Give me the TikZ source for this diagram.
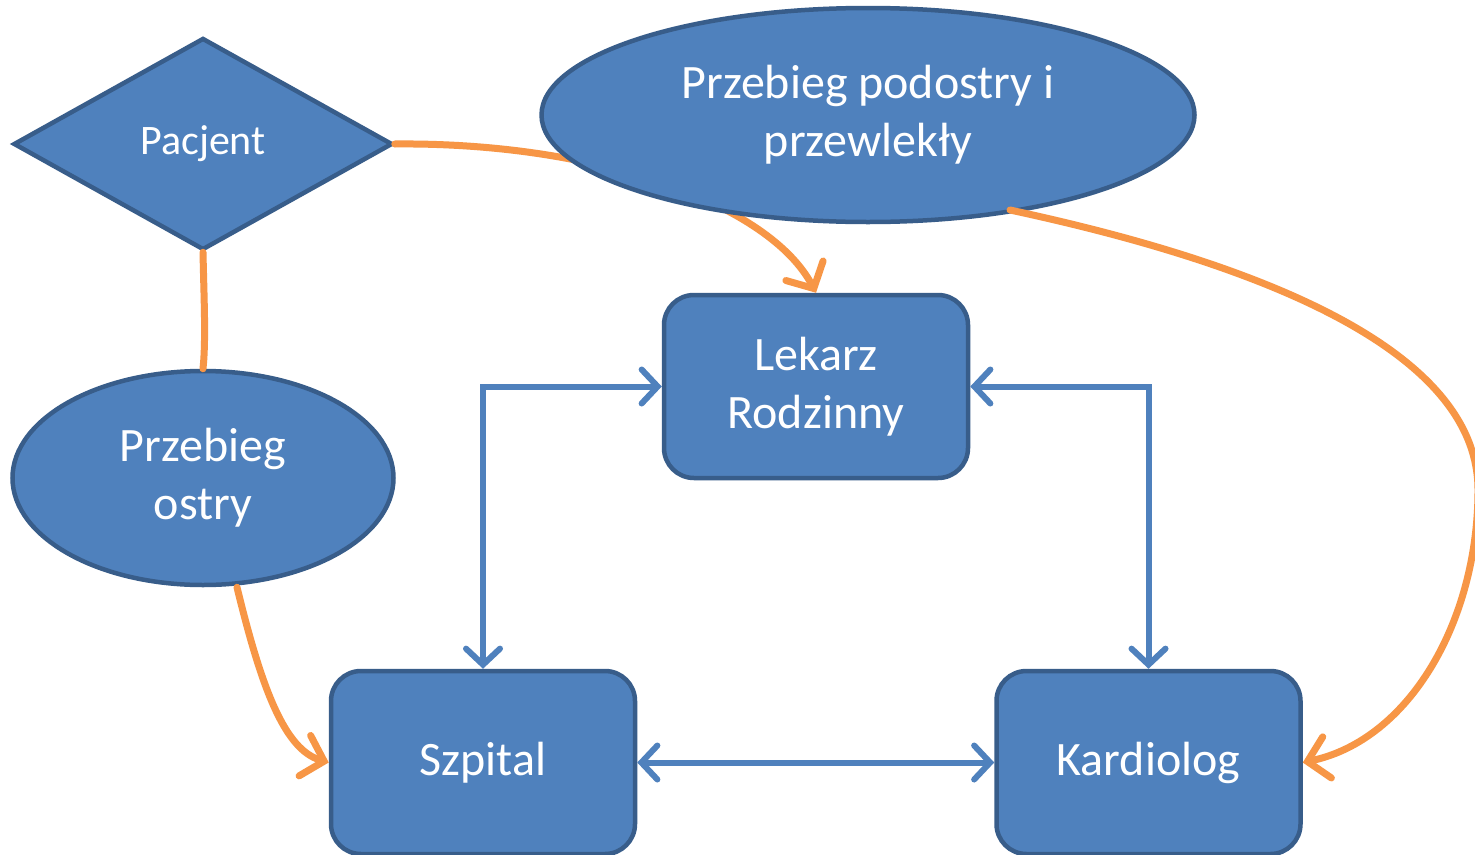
\documentclass[tikz,border=0pt]{standalone}
\usepackage{fontspec}
\setmainfont{Carlito}
\usetikzlibrary{shapes.geometric,arrows.meta}
\definecolor{boxfill}{HTML}{4F81BD}
\definecolor{boxline}{HTML}{385D8A}
\definecolor{flow}{HTML}{F79646}
\tikzset{
  shapebase/.style={fill=boxfill, draw=boxline, line width=4.5pt, text=white, inner sep=0pt, align=center},
  unit/.style={shapebase, rectangle, rounded corners=30pt, minimum width=304pt, minimum height=183pt, font=\fontsize{48}{58}\selectfont},
  oval/.style={shapebase, ellipse, font=\fontsize{48}{58}\selectfont},
  choice/.style={shapebase, diamond, aspect=1.8, minimum width=379pt, minimum height=212pt, font=\fontsize{42}{48}\selectfont},
  link/.style={draw=boxfill, line width=6pt, line cap=round,
    {Straight Barb[length=16pt,width=34pt,line cap=round]}-{Straight Barb[length=16pt,width=34pt,line cap=round]}},
  route/.style={draw=flow, line width=7pt, line cap=round},
  routearrow/.style={route, -{Straight Barb[length=20pt,width=42pt,line cap=round]}}
}
\begin{document}
\begin{tikzpicture}[x=1pt,y=-1pt]
\useasboundingbox (0,0) rectangle (1475,854);
\clip (0,0) rectangle (1475,854);
\fill[white] (0,0) rectangle (1475,854);

% patient and the first orange route, which runs beneath the upper ellipse
\node[choice] (pac) at (203,144) {Pacjent};
\node[unit] (lek) at (816,386.5) {Lekarz\\Rodzinny};
\draw[routearrow] (pac.east) .. controls (600,142) and (770,205) .. (lek.north);

\node[oval, minimum width=653pt, minimum height=214pt] (pod) at (868,115) {Przebieg podostry i\\przewlekły};
\node[oval, minimum width=381pt, minimum height=214pt] (ost) at (203,478) {Przebieg\\ostry};
\node[unit] (szp) at (483,762.5) {Szpital};
\node[unit] (kar) at (1148.5,762.5) {Kardiolog};

% orange routes
\draw[route] (pac.south) .. controls (204,300) and (206,340) .. (ost.north);
\draw[routearrow] (ost.south) ++(34,0) .. controls (262,690) and (285,750) .. (szp.west);
\coordinate (podr) at (1010,210);
\draw[routearrow] (podr) .. controls (1290,270) and (1478,360) .. (1478,490)
  .. controls (1478,620) and (1410,740) .. (kar.east);

% blue two-way links
\draw[link] (lek.west) -| (szp.north);
\draw[link] (lek.east) -| (kar.north);
\draw[link] (szp.east) -- (kar.west);
\end{tikzpicture}
\end{document}
